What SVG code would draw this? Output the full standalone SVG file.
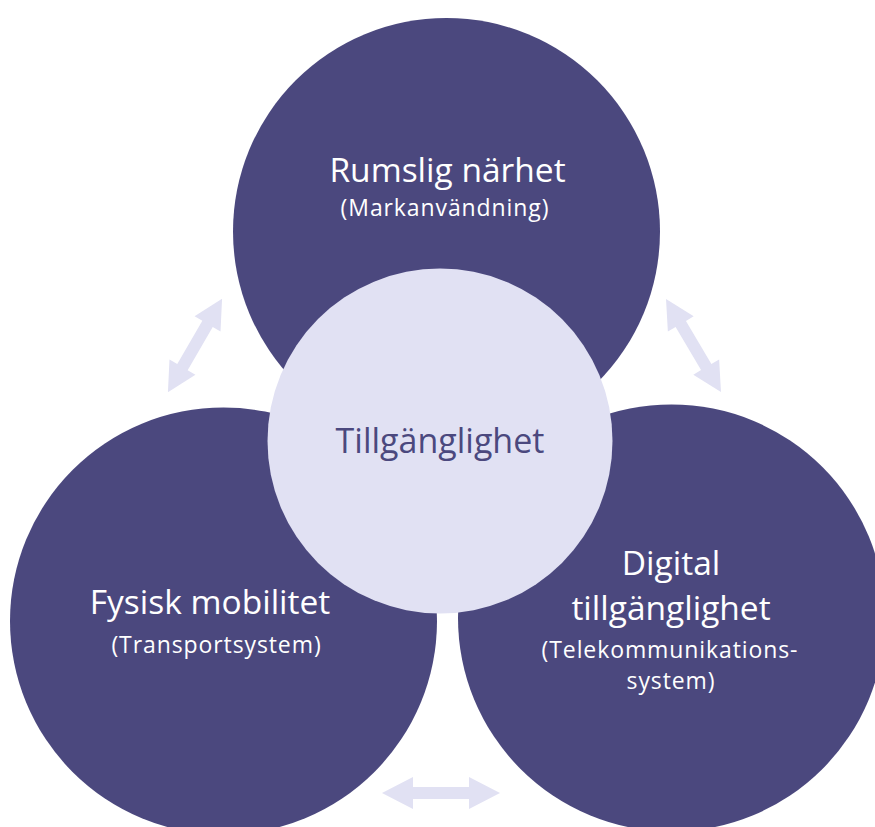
<svg xmlns="http://www.w3.org/2000/svg" width="875" height="827" viewBox="0 0 875 827">
  <defs>
    <style>
      .outer { fill: #4b487e; }
      .core { fill: #e1e1f3; }
      .link { fill: #e1e1f3; }
      .title { font-family: "Open Sans", "Liberation Sans", sans-serif; fill: #ffffff; text-anchor: middle; font-size: 33.5px; }
      .sub { font-family: "Open Sans", "Liberation Sans", sans-serif; fill: #ffffff; text-anchor: middle; font-size: 23px; letter-spacing: 0.9px; }
      .center-label { font-family: "Open Sans", "Liberation Sans", sans-serif; fill: #4b487e; text-anchor: middle; font-size: 34px; }
    </style>
  </defs>
  <rect width="875" height="827" fill="#ffffff"/>

  <!-- double-headed connectors between the outer circles -->
  <g id="connectors">
    <polygon class="link" transform="translate(195 345.5) rotate(-59.9)" points="-54,0 -25,-15 -25,-6 25,-6 25,-15 54,0 25,15 25,6 -25,6 -25,15"/>
    <polygon class="link" transform="translate(693.5 345.5) rotate(59.4)" points="-54,0 -25,-15 -25,-6 25,-6 25,-15 54,0 25,15 25,6 -25,6 -25,15"/>
    <polygon class="link" transform="translate(441 793)" points="-59,0 -28,-16 -28,-6 28,-6 28,-16 59,0 28,16 28,6 -28,6 -28,16"/>
  </g>

  <g id="rumslig">
    <circle class="outer" cx="446.5" cy="231.5" r="213.5"/>
    <text class="title" x="447.5" y="182">Rumslig närhet</text>
    <text class="sub" x="445" y="216">(Markanvändning)</text>
  </g>

  <g id="fysisk">
    <circle class="outer" cx="223.5" cy="621" r="213.5"/>
    <text class="title" x="210" y="614">Fysisk mobilitet</text>
    <text class="sub" x="216.5" y="653">(Transportsystem)</text>
  </g>

  <g id="digital">
    <circle class="outer" cx="671.5" cy="618" r="213.5"/>
    <text class="title" x="671" y="575">Digital</text>
    <text class="title" x="671" y="620">tillgänglighet</text>
    <text class="sub" x="670" y="658">(Telekommunikations-</text>
    <text class="sub" x="671" y="689">system)</text>
  </g>

  <g id="tillganglighet">
    <circle class="core" cx="440" cy="441" r="172.5"/>
    <text class="center-label" x="440" y="453">Tillgänglighet</text>
  </g>
</svg>
